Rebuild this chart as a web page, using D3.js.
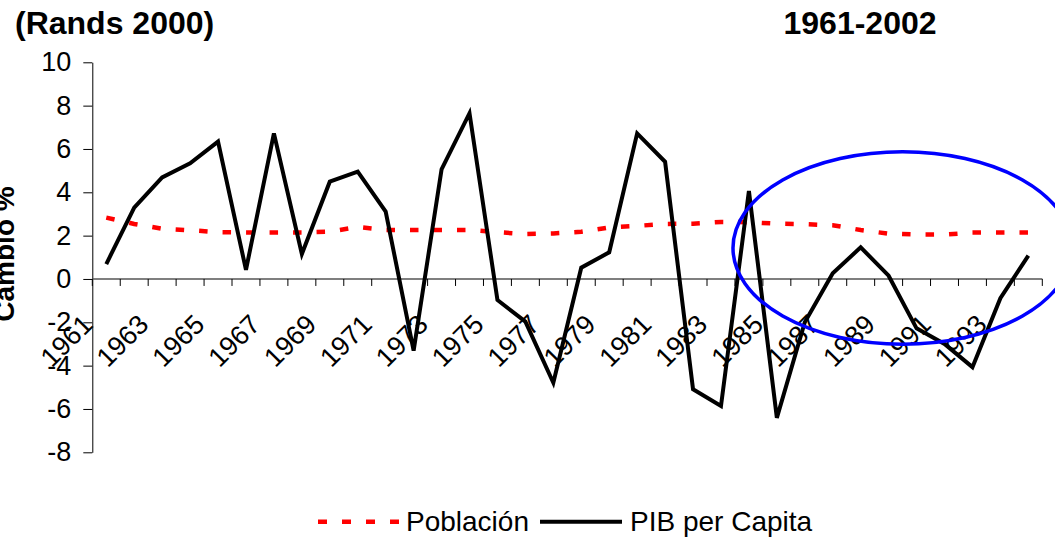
<!DOCTYPE html>
<html>
<head>
<meta charset="utf-8">
<script src="https://cdn.jsdelivr.net/npm/d3@7"></script>
<style>
  html, body { margin: 0; padding: 0; background: #fff; }
  svg { display: block; font-family: "Liberation Sans", Arial, Helvetica, sans-serif; }
</style>
</head>
<body>
<svg id="chart" width="1055" height="541"></svg>
<script>
// ---- Data ----
const years = ["1961","1962","1963","1964","1965","1966","1967","1968","1969","1970",
  "1971","1972","1973","1974","1975","1976","1977","1978","1979","1980",
  "1981","1982","1983","1984","1985","1986","1987","1988","1989","1990",
  "1991","1992","1993","1994"];
const pibPerCapita = [0.69, 3.29, 4.69, 5.34, 6.34, 0.42, 6.72, 1.15, 4.49, 4.95,
  3.11, -3.31, 5.06, 7.65, -0.97, -1.97, -4.79, 0.52, 1.23, 6.72,
  5.41, -5.09, -5.86, 4.06, -6.41, -2.0, 0.26, 1.46, 0.15, -2.28,
  -3.0, -4.07, -0.89, 1.08];
const poblacion = [2.83, 2.54, 2.32, 2.25, 2.16, 2.15, 2.15, 2.15, 2.18, 2.40,
  2.26, 2.26, 2.26, 2.26, 2.16, 2.07, 2.10, 2.18, 2.38, 2.45,
  2.54, 2.55, 2.63, 2.62, 2.55, 2.53, 2.48, 2.26, 2.09, 2.05,
  2.05, 2.14, 2.15, 2.15];
const xLabels = ["1961","1963","1965","1967","1969","1971","1973","1975","1977",
  "1979","1981","1983","1985","1987","1989","1991","1993"];
const yTicks = [-8, -6, -4, -2, 0, 2, 4, 6, 8, 10];
const seriesNames = ["Población", "PIB per Capita"];
// annotation ellipse (data units)
const ellipseCenterYear = "1990";
const ellipseCenterValue = 1.43;
const ellipseHalfWidthYears = 6.07;
const ellipseHalfHeightValue = 4.44;

// ---- Chart ----
const svg = d3.select("#chart");
const x = d3.scaleBand().domain(years).range([92.3, 1042.3]).padding(0);
const y = d3.scaleLinear().domain([-8, 10]).range([452.3, 62.3]);
const bw = x.bandwidth();
const cx = d => x(d) + bw / 2;

// Titles
svg.append("text").attr("x", 15).attr("y", 34)
  .attr("font-size", 32).attr("font-weight", "bold").text("(Rands 2000)");
svg.append("text").attr("x", 860).attr("y", 34).attr("text-anchor", "middle")
  .attr("font-size", 32).attr("font-weight", "bold").text("1961-2002");

// Y axis title
svg.append("text").attr("transform", "translate(14,254) rotate(-90)")
  .attr("text-anchor", "middle").attr("font-size", 28).attr("font-weight", "bold")
  .text("Cambio %");

// Y axis
const yAxis = svg.append("g").attr("transform", "translate(92.3,0)")
  .call(d3.axisLeft(y).tickValues(yTicks).tickSize(9).tickSizeOuter(0).tickPadding(12)
    .tickFormat(d => String(d)));
yAxis.selectAll("text").attr("font-size", 27).attr("fill", "#000")
  .attr("font-family", "'Liberation Sans', Arial, sans-serif");
yAxis.selectAll("line,path").attr("stroke", "#000");

// X axis (at zero)
const y0 = y(0);
const xAx = svg.append("g");
xAx.append("line").attr("x1", x.range()[0]).attr("x2", x.range()[1])
  .attr("y1", y0).attr("y2", y0).attr("stroke", "#555").attr("stroke-width", 1.6);
const tickXs = years.map(d => x(d)).concat([x.range()[1]]);
xAx.selectAll("line.tk").data(tickXs).join("line").attr("class", "tk")
  .attr("x1", d => d).attr("x2", d => d).attr("y1", y0).attr("y2", y0 + 7)
  .attr("stroke", "#000").attr("stroke-width", 1);
xAx.selectAll("text").data(xLabels).join("text")
  .attr("transform", d => `translate(${cx(d) - 12},326) rotate(-45)`)
  .attr("text-anchor", "end").attr("font-size", 27).text(d => d);

// Lines
const line = d3.line().x((d, i) => cx(years[i])).y(d => y(d));
svg.append("path").datum(poblacion).attr("d", line)
  .attr("fill", "none").attr("stroke", "#ff0000").attr("stroke-width", 4.5)
  .attr("stroke-dasharray", "8.5,15");
svg.append("path").datum(pibPerCapita).attr("d", line)
  .attr("fill", "none").attr("stroke", "#000").attr("stroke-width", 4)
  .attr("stroke-linejoin", "miter");

// Annotation ellipse
svg.append("ellipse")
  .attr("cx", x(ellipseCenterYear))
  .attr("cy", y(ellipseCenterValue))
  .attr("rx", ellipseHalfWidthYears * bw)
  .attr("ry", y(0) - y(ellipseHalfHeightValue))
  .attr("fill", "none").attr("stroke", "#0000ff").attr("stroke-width", 3.5);

// Legend
const lg = svg.append("g");
lg.append("line").attr("x1", 318).attr("x2", 400).attr("y1", 521.7).attr("y2", 521.7)
  .attr("stroke", "#ff0000").attr("stroke-width", 4.5).attr("stroke-dasharray", "9,15");
lg.append("text").attr("x", 406).attr("y", 531).attr("font-size", 28).text(seriesNames[0]);
lg.append("line").attr("x1", 540).attr("x2", 622).attr("y1", 521.7).attr("y2", 521.7)
  .attr("stroke", "#000").attr("stroke-width", 4);
lg.append("text").attr("x", 630).attr("y", 531).attr("font-size", 28).text(seriesNames[1]);
</script>
</body>
</html>
